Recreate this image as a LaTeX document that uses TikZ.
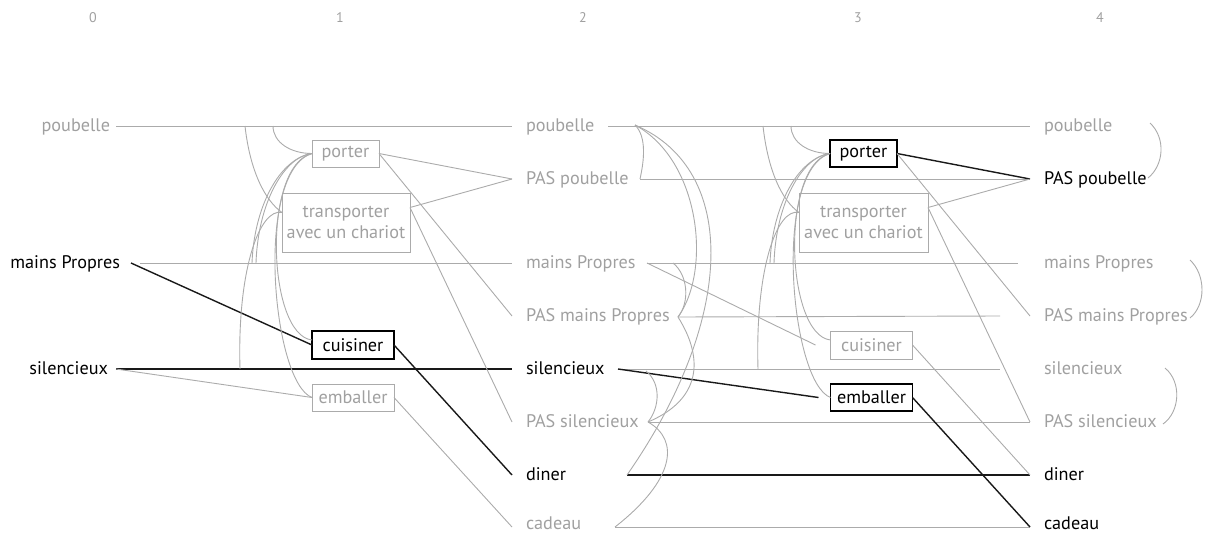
\documentclass[tikz,border=0pt]{standalone}
\usepackage{fontspec}
\setmainfont{PT Sans}
\definecolor{lg}{HTML}{A0A0A0}
\definecolor{ln}{HTML}{ABABAB}
\begin{document}
\begin{tikzpicture}[x=1pt,y=-1pt,
  every node/.style={font=\fontsize{18.2}{21.5}\selectfont, inner sep=0pt, outer sep=0pt},
  lbl/.style={text height=13pt, text depth=3pt},
  glbl/.style={lbl, text=lg},
  blbl/.style={lbl, text=black},
  lowlbl/.style={text depth=0pt},
  gbox/.style={draw=ln, line width=1pt, text=lg, align=center},
  bbox/.style={draw=black, line width=1.4pt, text=black, align=center},
  gl/.style={draw=ln, line width=0.9pt},
  bl/.style={draw=black!90, line width=1.4pt},
  hdr/.style={text=lg, font=\fontsize{14}{16}\selectfont}]
\useasboundingbox (0,0) rectangle (1205,533);
% headers
\node[hdr] (h0) at (93,18) {0};
\node[hdr] (h1) at (340,18) {1};
\node[hdr] (h2) at (583,18) {2};
\node[hdr] (h3) at (858,18) {3};
\node[hdr] (h4) at (1100,18) {4};
% column 0
\node[glbl,anchor=east] (p0) at (110,126) {poubelle};
\node[blbl,anchor=east] (m0) at (120,263) {mains Propres};
\node[blbl,anchor=east] (s0) at (108,369) {silencieux};
% column 1
\node[gbox,minimum width=67pt,minimum height=27pt] (P1) at (345.5,153.5) {porter};
\node[gbox,minimum width=128pt,minimum height=59pt] (T1) at (346,222.5) {transporter\\avec un chariot};
\node[bbox,minimum width=82pt,minimum height=28pt] (C1) at (353,345) {cuisiner};
\node[gbox,minimum width=82pt,minimum height=27pt] (E1) at (353,397.5) {emballer};
% column 2
\node[glbl,anchor=west] (p2) at (526,126) {poubelle};
\node[glbl,anchor=west] (np2) at (526,179) {PAS poubelle};
\node[glbl,anchor=west] (m2) at (526,263) {mains Propres};
\node[glbl,anchor=west] (nm2) at (526,316) {PAS mains Propres};
\node[blbl,anchor=west] (s2) at (526,369) {silencieux};
\node[glbl,anchor=west] (ns2) at (526,422) {PAS silencieux};
\node[blbl,anchor=west] (d2) at (526,475) {diner};
\node[glbl,lowlbl,anchor=west] (c2) at (526,522.5) {cadeau};
% column 3
\node[bbox,minimum width=67pt,minimum height=27pt] (P3) at (863.5,153.5) {porter};
\node[gbox,minimum width=129pt,minimum height=59pt] (T3) at (863.5,222.5) {transporter\\avec un chariot};
\node[gbox,minimum width=82pt,minimum height=28pt] (C3) at (871.5,345) {cuisiner};
\node[bbox,minimum width=82pt,minimum height=27pt] (E3) at (871.5,397.5) {emballer};
% column 4
\node[glbl,anchor=west] (p4) at (1044,126) {poubelle};
\node[blbl,anchor=west] (np4) at (1044,179) {PAS poubelle};
\node[glbl,anchor=west] (m4) at (1044,263) {mains Propres};
\node[glbl,anchor=west] (nm4) at (1044,316) {PAS mains Propres};
\node[glbl,anchor=west] (s4) at (1044,369) {silencieux};
\node[glbl,anchor=west] (ns4) at (1044,422) {PAS silencieux};
\node[blbl,anchor=west] (d4) at (1044,475) {diner};
\node[blbl,lowlbl,anchor=west] (c4) at (1044,522.5) {cadeau};

% helper coordinates
\coordinate (T1l) at ([yshift=10pt]T1.west);
\coordinate (T1r) at ([yshift=15pt]T1.east);
\coordinate (T3l) at ([yshift=10pt]T3.west);
\coordinate (T3r) at ([yshift=15pt]T3.east);
\coordinate (p2i) at ([xshift=-14pt]p2.west);
\coordinate (np2i) at ([xshift=-14pt]np2.west);
\coordinate (m2i) at ([xshift=-14pt]m2.west);
\coordinate (nm2i) at ([xshift=-14pt]nm2.west);
\coordinate (s2i) at ([xshift=-14pt]s2.west);
\coordinate (ns2i) at ([xshift=-14pt]ns2.west);
\coordinate (d2i) at ([xshift=-14pt]d2.west);
\coordinate (c2i) at ([xshift=-14pt,yshift=-4.5pt]c2.west);
\coordinate (p4i) at ([xshift=-14pt]p4.west);
\coordinate (np4i) at ([xshift=-14pt]np4.west);
\coordinate (nm4i) at ([xshift=-14pt]nm4.west);
\coordinate (ns4i) at ([xshift=-14pt]ns4.west);
\coordinate (d4i) at ([xshift=-14pt]d4.west);
\coordinate (c4i) at ([xshift=-14pt,yshift=-4.5pt]c4.west);
% points on lines
\coordinate (a1) at (245,126); \coordinate (b1) at (273,126);
\coordinate (c1) at (252,263); \coordinate (d1) at (256,263); \coordinate (e1) at (240,369);
\coordinate (a3) at (763,126); \coordinate (b3) at (791,126);
\coordinate (c3) at (770,263); \coordinate (d3) at (774,263); \coordinate (e3) at (758,369);
\coordinate (p2r) at (608,126); \coordinate (p2x) at (635,125);
\coordinate (np2r) at (640,179);
\coordinate (m2r) at (647,263); \coordinate (m2x) at (673,263);
\coordinate (nm2r) at (678,317);
\coordinate (s2r) at (618,369); \coordinate (s2x) at (646,371);
\coordinate (ns2r) at (648,422);
\coordinate (d2r) at (627,475);
\coordinate (c2r) at (615,527);
\coordinate (m4e) at (1018,263);
\coordinate (nm4e) at (1000,316);
\coordinate (s4e) at (1000,369);

% column 0 -> 2
\draw[gl] ([xshift=6pt]p0.east) -- (p2i);
\draw[gl] ([xshift=20pt]m0.east) -- (m2i);
\draw[bl] ([xshift=8pt]s0.east) -- (s2i);
\draw[bl] ([xshift=11pt]m0.east) -- (C1.west);
\draw[gl] ([xshift=8pt]s0.east) -- (E1.west);
% column 1 curves
\draw[gl] (a1) .. controls +(5,45) and +(-17,-12) .. (T1l);
\draw[gl] (b1) .. controls +(0,16) and +(-22,0) .. (P1.west);
\draw[gl] (P1.west) .. controls +(-33,5) and +(2,-55) .. (c1);
\draw[gl] (P1.west) .. controls +(-28,3) and +(2,-60) .. (d1);
\draw[gl] (T1l) .. controls +(-22,-5) and +(-3,-100) .. (e1);
\draw[gl] (P1.west) .. controls +(-50,12) and +(-45,-5) .. ([yshift=5pt]C1.west);
\draw[gl] (P1.west) .. controls +(-58,18) and +(-40,-15) .. (E1.west);
% column 1 -> 2
\draw[gl] (P1.east) -- (np2i);
\draw[gl] (T1r) -- (np2i);
\draw[gl] (P1.east) -- (nm2i);
\draw[gl] (T1r) -- (ns2i);
\draw[bl] (C1.east) -- (d2i);
\draw[gl] (E1.east) -- (c2i);
% column 2 -> 4 horizontals
\draw[gl] (p2r) -- (p4i);
\draw[gl] (np2r) -- (np4i);
\draw[gl] (m2r) -- (m4e);
\draw[gl] (nm2r) -- (nm4e);
\draw[gl] (s2r) -- (s4e);
\draw[gl] (ns2r) -- (ns4i);
\draw[bl] (d2r) -- (d4i);
\draw[gl] (c2r) -- (c4i);
\draw[gl] (m2r) -- ([xshift=-15pt]C3.west);
\draw[bl] (s2r) -- ([xshift=-12pt]E3.west);
% column 2 curves
\draw[gl] (p2x) .. controls +(12,12) and +(4,-18) .. (np2r);
\draw[gl] (m2x) .. controls +(15,12) and +(12,-15) .. (nm2r);
\draw[gl] (s2x) .. controls +(15,12) and +(12,-15) .. (ns2r);
\draw[gl] (p2x) .. controls (700,160) and (712,270) .. (nm2r);
\draw[gl] (p2x) .. controls (740,170) and (735,320) .. (d2r);
\draw[gl] (nm2r) .. controls (705,360) and (700,400) .. (ns2r);
\draw[gl] (ns2r) .. controls (680,440) and (675,480) .. (c2r);
% column 3 curves
\draw[gl] (a3) .. controls +(5,45) and +(-17,-12) .. (T3l);
\draw[gl] (b3) .. controls +(0,16) and +(-22,0) .. (P3.west);
\draw[gl] (P3.west) .. controls +(-33,5) and +(2,-55) .. (c3);
\draw[gl] (P3.west) .. controls +(-28,3) and +(2,-60) .. (d3);
\draw[gl] (T3l) .. controls +(-22,-5) and +(-3,-100) .. (e3);
\draw[gl] (P3.west) .. controls +(-50,12) and +(-45,-5) .. ([yshift=5pt]C3.west);
\draw[gl] (P3.west) .. controls +(-58,18) and +(-40,-15) .. (E3.west);
% column 3 -> 4
\draw[bl] (P3.east) -- (np4i);
\draw[gl] (T3r) -- (np4i);
\draw[gl] (P3.east) -- (nm4i);
\draw[gl] (T3r) -- (ns4i);
\draw[gl] (C3.east) -- (d4i);
\draw[bl] (E3.east) -- (c4i);
% brackets
\draw[gl] (1150,123) .. controls (1166,138) and (1164,165) .. (1148,178);
\draw[gl] (1190,260) .. controls (1206,275) and (1206,305) .. (1190,318);
\draw[gl] (1165,368) .. controls (1182,382) and (1180,412) .. (1163,424);
\end{tikzpicture}
\end{document}
